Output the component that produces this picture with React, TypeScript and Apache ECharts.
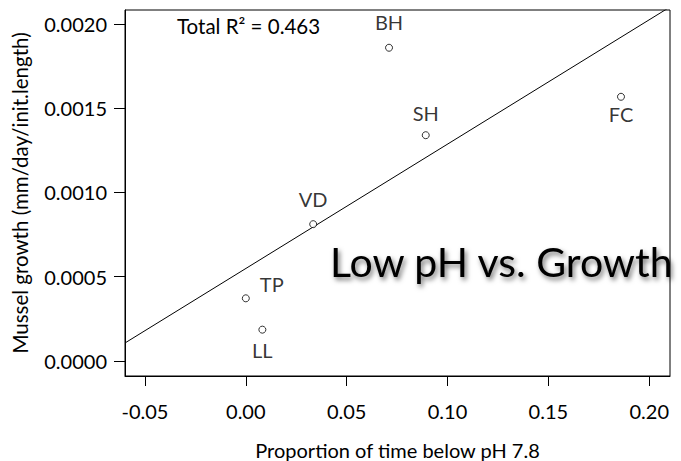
import React, { useEffect, useRef } from "react";
import * as echarts from "echarts";

const siteNames = ["BH", "SH", "FC", "VD", "TP", "LL"];
const propBelow = [0.071, 0.0892, 0.186, 0.0334, 0.0, 0.0082];
const growth = [0.001859, 0.00134, 0.001568, 0.000812, 0.000372, 0.000186];
const fitIntercept = 0.000549;
const fitSlope = 0.00738;
const xTicks = [-0.05, 0, 0.05, 0.1, 0.15, 0.2];
const yTicks = [0, 0.0005, 0.001, 0.0015, 0.002];
const rSquaredText = "Total R² = 0.463";
const titleText = "Low pH vs. Growth";
const xName = "Proportion of time below pH 7.8";
const yName = "Mussel growth (mm/day/init.length)";

const FONT = "Lato, 'Open Sans', sans-serif";
const INK = "#000";

export default function App() {
  const ref = useRef<HTMLDivElement>(null);
  useEffect(() => {
    if (!ref.current) return;
    const chart = echarts.init(ref.current, null, { renderer: "svg" });
    const xMin = -0.0599;
    const xMax = 0.2103;
    const yMin = -0.000089;
    const yMax = 0.002083;
    const placement: Record<string, any> = {
      BH: { position: "top", distance: 12 },
      SH: { position: "top", distance: 8 },
      FC: { position: "bottom", distance: 3 },
      VD: { position: "top", distance: 11 },
      TP: { position: "right", distance: 10, offset: [0, -14] },
      LL: { position: "bottom", distance: 6 },
    };
    const pts = siteNames.map((n, i) => ({
      name: n,
      value: [propBelow[i], growth[i]],
      label: { show: true, formatter: n, ...placement[n] },
    }));
    const lineData = [xMin, xMax].map((x) => [x, fitIntercept + fitSlope * x]);
    chart.setOption({
      animation: false,
      backgroundColor: "#ffffff",
      textStyle: { fontFamily: FONT },
      grid: {
        left: 125,
        right: 11,
        top: 10,
        bottom: 85,
        outerBoundsMode: "none",
        containLabel: false,
        show: true,
        borderColor: INK,
        borderWidth: 1,
        backgroundColor: "transparent",
      },
      xAxis: {
        type: "value",
        min: xMin,
        max: xMax,
        name: xName,
        nameLocation: "middle",
        nameGap: 64,
        nameTextStyle: { fontSize: 20, color: INK, fontFamily: FONT },
        axisLine: { show: true, onZero: false, lineStyle: { color: INK } },
        axisTick: {
          show: true,
          length: 10,
          inside: false,
          customValues: xTicks,
          lineStyle: { color: INK },
        },
        axisLabel: {
          customValues: xTicks,
          formatter: (v: number) => v.toFixed(2),
          fontSize: 20,
          color: INK,
          margin: 25,
          fontFamily: FONT,
        },
        splitLine: { show: false },
      },
      yAxis: {
        type: "value",
        min: yMin,
        max: yMax,
        name: yName,
        nameLocation: "middle",
        nameRotate: 90,
        nameGap: 95,
        nameTextStyle: { fontSize: 20.5, color: INK, fontFamily: FONT },
        axisLine: { show: true, onZero: false, lineStyle: { color: INK } },
        axisTick: {
          show: true,
          length: 11,
          inside: false,
          customValues: yTicks,
          lineStyle: { color: INK },
        },
        axisLabel: {
          customValues: yTicks,
          formatter: (v: number) => v.toFixed(4),
          fontSize: 20,
          color: INK,
          margin: 18,
          fontFamily: FONT,
        },
        splitLine: { show: false },
      },
      series: [
        {
          type: "line",
          data: lineData,
          showSymbol: false,
          symbol: "none",
          clip: true,
          lineStyle: { color: INK, width: 1 },
          silent: true,
          z: 2,
        },
        {
          type: "scatter",
          data: pts,
          symbol: "circle",
          symbolSize: 7,
          itemStyle: { color: "#fff", borderColor: INK, borderWidth: 1 },
          label: { fontSize: 20, color: INK, fontFamily: FONT },
          z: 3,
        },
      ],
      graphic: [
        {
          type: "text",
          left: 177,
          top: 15,
          style: {
            text: rSquaredText,
            fontSize: 20.5,
            fill: INK,
            fontFamily: FONT,
          },
        },
        {
          type: "text",
          x: 330,
          y: 241,
          z: 10,
          style: {
            text: titleText,
            fontSize: 41,
            fill: INK,
            fontFamily: FONT,
            textShadowColor: "rgba(0,0,0,0.55)",
            textShadowBlur: 5,
            textShadowOffsetX: 2,
            textShadowOffsetY: 3,
          },
        },
      ],
    });
    return () => chart.dispose();
  }, []);
  return <div ref={ref} style={{ width: 681, height: 461, position: "absolute", left: 0, top: 0 }} />;
}
